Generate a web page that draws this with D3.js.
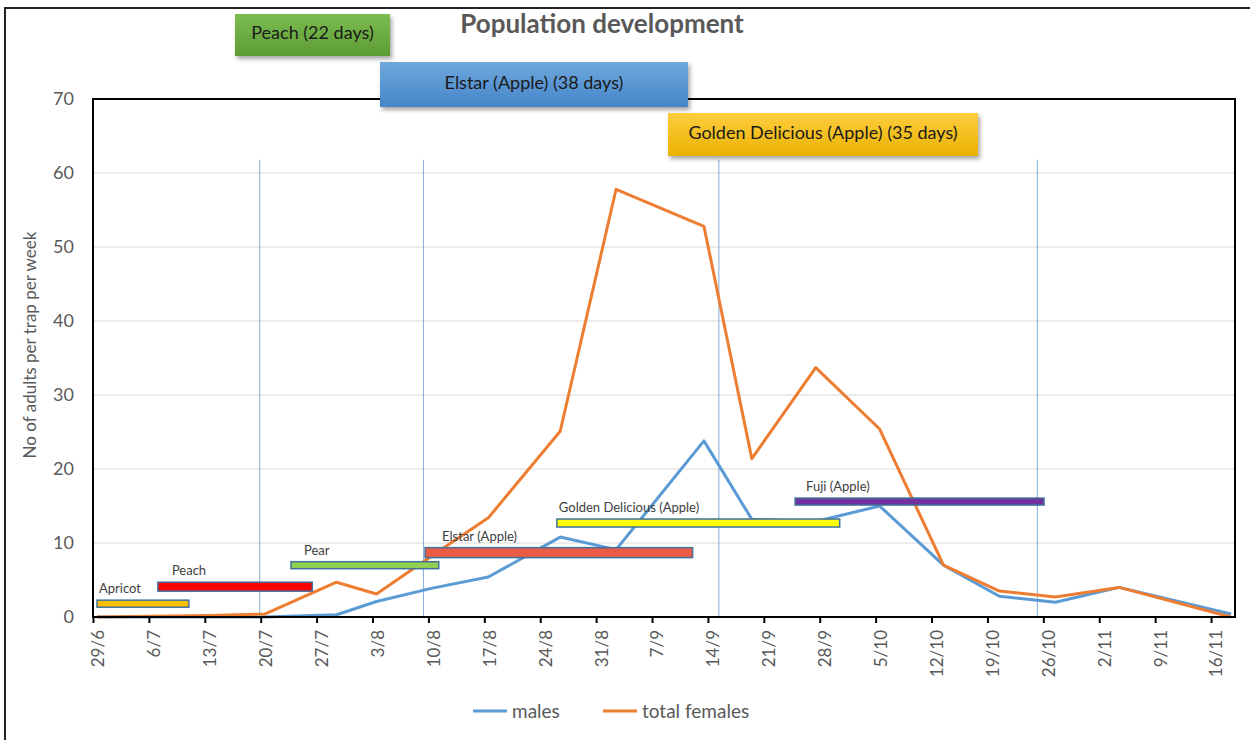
<!DOCTYPE html>
<html>
<head>
<meta charset="utf-8">
<script src="https://cdn.jsdelivr.net/npm/d3@7/dist/d3.min.js"></script>
<style>
  body { margin: 0; background: #fff; }
  svg { display: block; font-family: Lato, "Open Sans", sans-serif; }
</style>
</head>
<body>
<svg id="line-svg"></svg>
<script>
// trap counts, sampling dates as day/month
const sampleDates  = ["29/6", "6/7", "13/7", "20/7", "29/7", "3/8", "10/8", "17/8", "26/8", "2/9",
                      "13/9", "19/9", "27/9", "5/10", "13/10", "20/10", "27/10", "4/11", "18/11"];
const males        = [0, 0, 0, 0, 0.3, 2.1, 3.9, 5.4, 10.8, 9.1, 23.8, 13.2, 12.9, 15.0, 7.0, 2.8, 2.0, 4.0, 0.4];
const totalFemales = [0, 0.1, 0.2, 0.4, 4.7, 3.1, 8.3, 13.4, 25.1, 57.8, 52.8, 21.4, 33.7, 25.4, 7.0, 3.5, 2.7, 4.0, 0];

const tickLabels = ["29/6", "6/7", "13/7", "20/7", "27/7", "3/8", "10/8", "17/8", "24/8", "31/8", "7/9",
                    "14/9", "21/9", "28/9", "5/10", "12/10", "19/10", "26/10", "2/11", "9/11", "16/11"];
const yTicks = [0, 10, 20, 30, 40, 50, 60, 70];

// harvest periods ("day/month hour")
const crops      = ["Apricot", "Peach", "Pear", "Elstar (Apple)", "Golden Delicious (Apple)", "Fuji (Apple)"];
const cropStart  = ["29/6 12", "7/7 3", "23/7 19", "9/8 14", "26/8 2", "24/9 22"];
const cropEnd    = ["11/7 0", "26/7 11", "11/8 7", "12/9 2", "30/9 12", "26/10 2"];
const cropLevel  = [1.8, 4.1, 7.0, 8.7, 12.7, 15.6];

// vertical harvest markers
const harvestMarks = ["19/7 21", "9/8 9", "15/9 9", "25/10 6"];
const markTop = 61.8;

const callouts = ["Peach (22 days)", "Elstar (Apple) (38 days)", "Golden Delicious (Apple) (35 days)"];

const parseDay = s => {
  const [dm, h] = s.split(" ");
  const [d, m] = dm.split("/");
  return new Date(2014, +m - 1, +d, h ? +h : 0);
};

const svgWidth = 1250, svgHeight = 740;
const margin = {top: 99, right: 15, bottom: 123, left: 93};
const width = svgWidth - margin.left - margin.right;
const height = svgHeight - margin.top - margin.bottom;

const svg = d3.select('#line-svg')
  .attr('width', svgWidth)
  .attr('height', svgHeight);

const defs = svg.append('defs');
const shadow = defs.append('filter').attr('id', 'shadow')
  .attr('x', '-10%').attr('y', '-20%').attr('width', '130%').attr('height', '160%');
shadow.append('feDropShadow')
  .attr('dx', 2).attr('dy', 3).attr('stdDeviation', 2)
  .attr('flood-color', '#000').attr('flood-opacity', 0.35);

// outer frame
svg.append('rect')
  .attr('x', 5).attr('y', 8)
  .attr('width', 1300).attr('height', 800)
  .attr('fill', 'none').attr('stroke', '#222').attr('stroke-width', 2);

const chart = svg.append('g')
  .attr('transform', `translate(${margin.left}, ${margin.top})`);

/*********** Scales *******************/
const xScale = d3.scaleTime()
  .domain([parseDay("29/6"), parseDay("19/11")])
  .range([0, width]);

// points sit in the middle of their day
const xMid = d => xScale(d3.timeHour.offset(d, 12));

const yScale = d3.scaleLinear()
  .domain([0, 70])
  .range([height, 0]);
/**************************************/

/*********** Grid *********************/
chart.append('g')
  .selectAll('line')
  .data(yTicks.slice(1, -1))
  .join('line')
  .attr('x1', 0).attr('x2', width)
  .attr('y1', d => yScale(d)).attr('y2', d => yScale(d))
  .attr('stroke', '#d9d9d9').attr('stroke-width', 1);
/**************************************/

/*********** Harvest markers **********/
chart.append('g')
  .selectAll('line')
  .data(harvestMarks.map(parseDay))
  .join('line')
  .attr('x1', d => xScale(d)).attr('x2', d => xScale(d))
  .attr('y1', yScale(markTop)).attr('y2', height)
  .attr('stroke', '#84acdc').attr('stroke-width', 1);
/**************************************/

/*********** Lines ********************/
const dates = sampleDates.map(parseDay);
const line = d3.line()
  .x((d, i) => xMid(dates[i]))
  .y(d => yScale(d));

chart.append('path')
  .datum(males)
  .attr('d', line)
  .attr('fill', 'none')
  .attr('stroke', '#5b9bd5')
  .attr('stroke-width', 3)
  .attr('stroke-linejoin', 'round');

chart.append('path')
  .datum(totalFemales)
  .attr('d', line)
  .attr('fill', 'none')
  .attr('stroke', '#ed7d31')
  .attr('stroke-width', 3)
  .attr('stroke-linejoin', 'round');
/**************************************/

/*********** Harvest bars *************/
const barStyle = {
  "Apricot":                  {fill: '#ffc000', h: 7,  dx: 2},
  "Peach":                    {fill: '#ff0000', h: 9,  dx: 14},
  "Pear":                     {fill: '#92d050', h: 7,  dx: 13},
  "Elstar (Apple)":           {fill: '#ea5b45', h: 10, dx: 17},
  "Golden Delicious (Apple)": {fill: '#ffff00', h: 8,  dx: 2},
  "Fuji (Apple)":             {fill: '#7030a0', h: 7,  dx: 11}
};

const bars = crops.map((c, i) => ({
  name: c, start: parseDay(cropStart[i]), end: parseDay(cropEnd[i]), level: cropLevel[i]
}));

const barG = chart.append('g')
  .selectAll('g')
  .data(bars)
  .join('g');

barG.append('rect')
  .attr('x', d => xScale(d.start))
  .attr('y', d => yScale(d.level) - barStyle[d.name].h / 2)
  .attr('width', d => xScale(d.end) - xScale(d.start))
  .attr('height', d => barStyle[d.name].h)
  .attr('fill', d => barStyle[d.name].fill)
  .attr('stroke', '#41719c')
  .attr('stroke-width', 1.5);

barG.append('text')
  .attr('x', d => xScale(d.start) + barStyle[d.name].dx)
  .attr('y', d => yScale(d.level) - barStyle[d.name].h / 2 - 7)
  .attr('fill', '#404040')
  .style('font-size', '13px')
  .text(d => d.name);
/**************************************/

/*********** Plot frame + axes ********/
chart.append('rect')
  .attr('width', width).attr('height', height)
  .attr('fill', 'none').attr('stroke', '#000').attr('stroke-width', 2);

const xAxis = chart.append('g')
  .attr('transform', `translate(0, ${height})`)
  .call(d3.axisBottom(xScale)
    .tickValues(tickLabels.map(parseDay))
    .tickFormat((d, i) => tickLabels[i])
    .tickSize(6)
    .tickSizeOuter(0));
xAxis.select('.domain').remove();
xAxis.selectAll('line').attr('stroke', '#000').attr('stroke-width', 2);
xAxis.selectAll('text')
  .attr('transform', 'rotate(-90)')
  .attr('x', -13)
  .attr('y', 5)
  .attr('dy', '0.35em')
  .attr('text-anchor', 'end')
  .attr('fill', '#595959')
  .style('font-size', '17px')
  .style('font-family', 'Lato, sans-serif');

chart.append('g')
  .selectAll('text')
  .data(yTicks)
  .join('text')
  .attr('x', -19)
  .attr('y', d => yScale(d))
  .attr('dy', '0.35em')
  .attr('text-anchor', 'end')
  .attr('fill', '#595959')
  .style('font-size', '18px')
  .text(d => d);
/**************************************/

/*********** Title and labels *********/
svg.append('text')
  .attr('x', 602)
  .attr('y', 33)
  .attr('text-anchor', 'middle')
  .attr('fill', '#595959')
  .style('font-size', '26px')
  .style('font-weight', 'bold')
  .text('Population development');

svg.append('text')
  .attr('transform', 'rotate(-90)')
  .attr('x', -345)
  .attr('y', 36)
  .attr('text-anchor', 'middle')
  .attr('fill', '#595959')
  .style('font-size', '17px')
  .text('No of adults per trap per week');
/**************************************/

/*********** Callout boxes ************/
const calloutBox = [
  {x: 235, y: 14,  w: 155, h: 42, top: '#7cbc50', bottom: '#5e9c36'},
  {x: 380, y: 62,  w: 308, h: 45, top: '#70a8de', bottom: '#4585c8'},
  {x: 668, y: 113, w: 310, h: 43, top: '#ffcd40', bottom: '#e9b200'}
];

calloutBox.forEach((b, i) => {
  const gid = 'grad' + i;
  const grad = defs.append('linearGradient').attr('id', gid)
    .attr('x1', 0).attr('y1', 0).attr('x2', 0).attr('y2', 1);
  grad.append('stop').attr('offset', '0%').attr('stop-color', b.top);
  grad.append('stop').attr('offset', '100%').attr('stop-color', b.bottom);

  svg.append('rect')
    .attr('x', b.x).attr('y', b.y)
    .attr('width', b.w).attr('height', b.h)
    .attr('fill', `url(#${gid})`)
    .attr('filter', 'url(#shadow)');

  svg.append('text')
    .attr('x', b.x + b.w / 2)
    .attr('y', b.y + b.h / 2 - 2)
    .attr('dy', '0.35em')
    .attr('text-anchor', 'middle')
    .attr('fill', '#1a1a1a')
    .style('font-size', '18px')
    .text(callouts[i]);
});
/**************************************/

/*********** Legend *******************/
const legendItems = [
  {name: 'males', color: '#5b9bd5', x: 473},
  {name: 'total females', color: '#ed7d31', x: 603}
];
const legend = svg.append('g')
  .selectAll('g')
  .data(legendItems)
  .join('g')
  .attr('transform', d => `translate(${d.x}, 711)`);
legend.append('line')
  .attr('x1', 0).attr('x2', 34)
  .attr('stroke', d => d.color).attr('stroke-width', 3);
legend.append('text')
  .attr('x', 39)
  .attr('dy', '0.35em')
  .attr('fill', '#595959')
  .style('font-size', '19px')
  .text(d => d.name);
/**************************************/
</script>
</body>
</html>
